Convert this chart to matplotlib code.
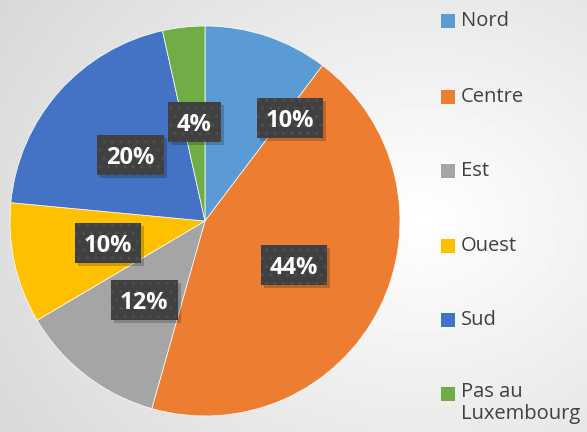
import matplotlib
matplotlib.use("Agg")
import matplotlib.pyplot as plt
from matplotlib.patches import Rectangle
from matplotlib.transforms import IdentityTransform
import numpy as np

# data
regions = ["Nord", "Centre", "Est", "Ouest", "Sud", "Pas au\nLuxembourg"]
shares = [10.3, 44.1, 12.1, 10.0, 20.0, 3.5]
pct_labels = ["10%", "44%", "12%", "10%", "20%", "4%"]
colors = ["#5B9BD5", "#ED7D31", "#A5A5A5", "#FFC000", "#4472C4", "#70AD47"]

plt.rcParams["font.family"] = ["Open Sans", "DejaVu Sans"]
plt.rcParams["hatch.linewidth"] = 1.1

W, H = 587, 432
fig = plt.figure(figsize=(W / 100, H / 100), dpi=100)

# radial grey background
bg = fig.add_axes([0, 0, 1, 1])
yy, xx = np.mgrid[0:H, 0:W]
r = np.hypot((xx - 420) / 520, (yy - 220) / 420)
bg.imshow(1 - 0.16 * np.clip(r, 0, 1), cmap="gray", vmin=0, vmax=1,
          extent=[0, W, H, 0], aspect="auto", interpolation="bilinear")
bg.set_xlim(0, W); bg.set_ylim(H, 0)
bg.axis("off")

# pie
cx, cy, R = 205, 221, 195
ax = fig.add_axes([(cx - R) / W, (H - cy - R) / H, 2 * R / W, 2 * R / H])
wedges, _ = ax.pie(shares, colors=colors, startangle=90, counterclock=False,
                   radius=1, wedgeprops={"edgecolor": "white", "linewidth": 0.5})
ax.set_xlim(-1, 1); ax.set_ylim(-1, 1)
ax.set_aspect("equal")
ax.axis("off")

texts = []
for i, (w, lab) in enumerate(zip(wedges, pct_labels)):
    mid = np.deg2rad((w.theta1 + w.theta2) / 2)
    x, y = 0.51 * np.cos(mid), 0.51 * np.sin(mid)
    if i == 0:  # Nord label pushed out by Excel
        x, y = 0.436, 0.528
    texts.append(ax.text(x, y, lab, ha="center", va="center_baseline", color="white",
                         fontsize=17, fontweight="bold", zorder=6))

# dark label boxes with a dotted fill and a soft shadow
fig.canvas.draw()
rend = fig.canvas.get_renderer()
for t in texts:
    ext = t.get_window_extent(rend)
    px, py = ax.transData.transform(t.get_position())
    bw, bh = ext.width + 18, 40
    ax.add_patch(Rectangle((px - bw / 2 + 3, py - bh / 2 - 3), bw, bh,
                           transform=IdentityTransform(), facecolor="black",
                           alpha=0.2, edgecolor="none", zorder=4))
    ax.add_patch(Rectangle((px - bw / 2, py - bh / 2), bw, bh,
                           transform=IdentityTransform(), facecolor="#404040",
                           edgecolor="#4e4e4e", hatch="..", linewidth=0, zorder=5))

# legend drawn by hand
leg_y = [21, 97, 171, 246, 320, 394]
for lab, c, y in zip(regions, colors, leg_y):
    fig.patches.append(Rectangle((441 / W, (H - y - 7) / H), 14 / W, 14 / H,
                                 transform=fig.transFigure, facecolor=c,
                                 edgecolor="none"))
    if "\n" in lab:
        fig.text(461 / W, (H - y + 12) / H, lab, ha="left", va="top",
                 fontsize=14.5, color="#404040", linespacing=1.15)
    else:
        fig.text(461 / W, (H - y) / H, lab, ha="left", va="center",
                 fontsize=14.5, color="#404040")

fig.savefig("out.png", dpi=100)
